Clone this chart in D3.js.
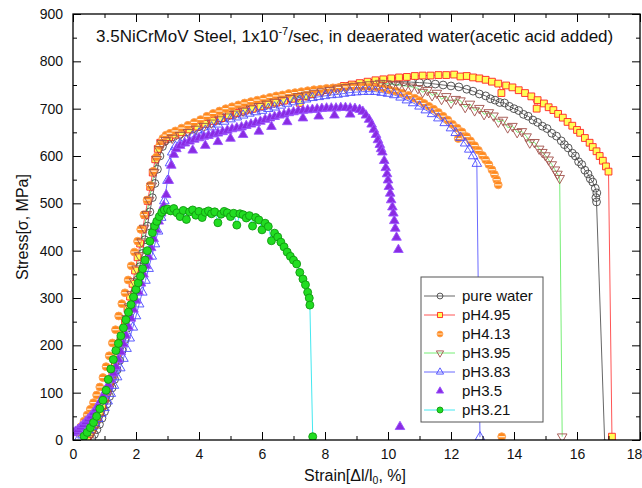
<!DOCTYPE html>
<html>
<head>
<meta charset="utf-8">
<script src="https://cdn.jsdelivr.net/npm/d3@7"></script>
<style>
body { margin: 0; background: #fff; }
svg text { font-family: "Liberation Sans", Arial, sans-serif; fill: #111; }
</style>
</head>
<body>
<svg id="chart" width="642" height="488"></svg>
<script>
// strain [%], stress [MPa]
const pureWater = [[0.6,4],[0.68,12],[0.76,22],[0.84,33],[0.92,46],[1.0,60],[1.08,76],[1.16,92],[1.24,110],[1.32,128],[1.4,148],[1.48,168],[1.56,190],[1.64,212],[1.72,236],[1.8,260],[1.88,285],[1.96,311],[2.04,338],[2.12,366],[2.2,394],[2.28,423],[2.36,452],[2.44,482],[2.52,512],[2.6,542],[2.68,572],[2.76,600],[2.84,620],[2.92,631],[3.05,637],[3.2,641],[3.4,646],[3.6,651],[3.8,657],[4.0,662],[4.25,668],[4.5,675],[4.75,681],[5.0,687],[5.25,693],[5.5,698],[5.75,703],[6.0,708],[6.25,712],[6.5,717],[6.75,721],[7.0,726],[7.25,730],[7.5,733],[7.75,737],[8.0,740],[8.25,743],[8.5,745],[8.75,748],[9.0,750],[9.25,752],[9.5,754],[9.75,756],[10.0,757],[10.25,757],[10.5,757],[10.75,756],[11.0,755],[11.25,754],[11.5,752],[11.75,750],[12.0,748],[12.25,746],[12.5,741],[12.7,737],[12.9,731],[13.1,727],[13.25,721],[13.4,718],[13.55,713],[13.7,712],[13.85,705],[14.0,700],[14.15,696],[14.3,688],[14.45,684],[14.6,676],[14.75,671],[14.9,663],[15.05,658],[15.2,648],[15.35,642],[15.5,632],[15.6,624],[15.72,617],[15.85,606],[15.95,600],[16.05,588],[16.15,582],[16.25,570],[16.35,562],[16.42,552],[16.5,545],[16.58,532],[16.63,522],[16.6,512],[16.62,503],[16.88,-8]];

const pH495 = [[0.45,4],[0.53,13],[0.61,22],[0.69,33],[0.77,45],[0.85,58],[0.93,72],[1.01,88],[1.09,105],[1.17,123],[1.25,142],[1.33,162],[1.41,183],[1.49,205],[1.57,228],[1.65,252],[1.73,277],[1.81,303],[1.89,330],[1.97,358],[2.05,386],[2.13,415],[2.21,445],[2.29,475],[2.37,505],[2.45,535],[2.53,565],[2.61,593],[2.69,615],[2.77,628],[2.9,635],[3.05,640],[3.25,645],[3.45,650],[3.7,656],[3.95,662],[4.2,668],[4.45,674],[4.7,680],[4.95,686],[5.2,691],[5.45,696],[5.7,700],[5.95,705],[6.2,709],[6.45,713],[6.7,717],[6.95,721],[7.2,712],[7.4,726],[7.6,731],[7.85,736],[8.1,740],[8.35,744],[8.6,748],[8.85,751],[9.1,754],[9.35,757],[9.6,760],[9.85,762],[10.1,764],[10.35,766],[10.6,767],[10.85,769],[11.1,770],[11.35,770],[11.6,771],[11.85,771],[12.1,772],[12.3,768],[12.5,769],[12.7,766],[12.9,764],[13.1,761],[13.3,757],[13.5,753],[13.6,733],[13.75,749],[13.95,745],[14.15,739],[14.35,733],[14.55,726],[14.72,700],[14.75,718],[14.95,711],[15.1,703],[15.25,697],[15.4,689],[15.55,681],[15.7,672],[15.85,664],[16.0,655],[16.1,649],[16.25,638],[16.4,628],[16.5,619],[16.62,610],[16.72,600],[16.82,590],[16.92,578],[17.0,567],[17.11,7]];

const pH413 = [[0.15,16],[0.25,28],[0.35,40],[0.45,53],[0.55,65],[0.65,79],[0.75,95],[0.85,112],[0.95,132],[1.05,155],[1.15,178],[1.25,205],[1.35,233],[1.45,262],[1.55,288],[1.65,311],[1.75,338],[1.85,368],[1.95,397],[2.05,420],[2.15,445],[2.25,476],[2.35,507],[2.45,538],[2.55,568],[2.65,598],[2.75,622],[2.85,637],[2.95,644],[3.08,648],[3.25,653],[3.45,659],[3.65,665],[3.85,671],[4.05,677],[4.25,684],[4.45,690],[4.65,695],[4.85,700],[5.05,704],[5.25,708],[5.45,712],[5.65,715],[5.85,718],[6.05,721],[6.25,724],[6.45,727],[6.65,729],[6.85,732],[7.05,734],[7.25,736],[7.45,738],[7.65,740],[7.85,741],[8.05,743],[8.25,744],[8.45,745],[8.65,746],[8.85,747],[9.05,747],[9.25,747],[9.45,746],[9.65,745],[9.85,743],[10.05,740],[10.25,737],[10.45,733],[10.65,728],[10.85,722],[11.0,717],[11.15,711],[11.3,705],[11.45,699],[11.6,692],[11.75,684],[11.9,676],[12.05,667],[12.23,637],[12.2,659],[12.35,651],[12.5,641],[12.62,632],[12.75,622],[12.87,612],[13.0,601],[13.1,592],[13.2,582],[13.3,571],[13.38,561],[13.45,550],[13.5,539],[13.61,7]];

const pH395 = [[0.5,4],[0.58,14],[0.66,24],[0.74,35],[0.82,47],[0.9,60],[0.98,75],[1.06,91],[1.14,108],[1.22,126],[1.3,146],[1.38,166],[1.46,188],[1.54,210],[1.62,233],[1.7,257],[1.78,282],[1.86,308],[1.94,335],[2.02,362],[2.1,390],[2.18,419],[2.26,448],[2.34,477],[2.42,507],[2.5,537],[2.58,566],[2.66,593],[2.74,614],[2.82,627],[2.95,633],[3.15,638],[3.4,644],[3.65,650],[3.9,657],[4.15,663],[4.4,670],[4.65,677],[4.9,683],[5.15,689],[5.4,695],[5.65,700],[5.9,705],[6.15,710],[6.4,714],[6.65,718],[6.9,722],[7.15,726],[7.4,729],[7.65,733],[7.9,736],[8.15,739],[8.4,742],[8.65,745],[8.9,747],[9.15,749],[9.4,751],[9.6,752],[9.75,754],[9.95,753],[10.15,752],[10.35,750],[10.55,748],[10.75,746],[10.95,743],[11.1,735],[11.25,739],[11.4,728],[11.55,733],[11.7,720],[11.85,726],[12.0,712],[12.15,720],[12.3,717],[12.45,703],[12.6,710],[12.75,696],[12.9,701],[13.05,688],[13.2,692],[13.35,685],[13.5,672],[13.65,676],[13.8,660],[13.95,663],[14.1,650],[14.25,652],[14.4,641],[14.5,628],[14.65,629],[14.8,615],[14.9,608],[15.0,601],[15.1,592],[15.2,582],[15.3,571],[15.38,562],[15.45,553],[15.53,7]];

const pH383 = [[0.2,5],[0.3,10],[0.4,15],[0.5,21],[0.6,28],[0.7,36],[0.8,45],[0.9,56],[1.0,68],[1.1,82],[1.2,98],[1.3,115],[1.4,133],[1.5,152],[1.6,172],[1.7,193],[1.8,215],[1.9,238],[2.0,262],[2.1,287],[2.2,312],[2.3,337],[2.4,362],[2.5,388],[2.6,414],[2.7,441],[2.8,470],[2.9,505],[3.0,548],[3.08,585],[3.15,608],[3.25,620],[3.4,626],[3.6,634],[3.8,641],[4.0,648],[4.2,654],[4.4,661],[4.6,667],[4.8,673],[5.0,678],[5.2,682],[5.4,686],[5.6,690],[5.8,693],[6.0,696],[6.2,700],[6.4,703],[6.6,707],[6.8,711],[7.0,714],[7.2,717],[7.4,720],[7.6,723],[7.8,725],[8.0,727],[8.2,729],[8.4,730],[8.6,732],[8.8,734],[9.0,735],[9.2,736],[9.4,736],[9.6,736],[9.8,734],[10.0,732],[10.2,729],[10.4,724],[10.6,718],[10.8,712],[11.0,705],[11.2,697],[11.4,689],[11.6,680],[11.8,670],[12.0,659],[12.15,649],[12.3,639],[12.45,627],[12.58,614],[12.7,600],[12.82,584],[12.92,6]];

const pH35 = [[0.0,15],[0.08,18],[0.16,22],[0.24,27],[0.32,32],[0.4,38],[0.48,44],[0.56,50],[0.64,57],[0.72,65],[0.8,73],[0.88,83],[0.96,93],[1.04,104],[1.12,116],[1.2,128],[1.28,141],[1.36,155],[1.44,170],[1.52,186],[1.6,203],[1.68,221],[1.76,239],[1.84,257],[1.92,276],[2.0,295],[2.08,313],[2.16,331],[2.24,350],[2.32,368],[2.4,387],[2.48,406],[2.56,425],[2.64,444],[2.72,462],[2.8,479],[2.88,495],[2.96,518],[3.04,548],[3.12,580],[3.2,603],[3.28,615],[3.4,622],[3.55,627],[3.7,631],[3.85,635],[4.0,638],[4.15,641],[4.3,643],[4.45,646],[4.6,648],[4.75,651],[4.9,654],[5.05,657],[5.2,659],[5.35,661],[5.5,664],[5.65,667],[5.8,670],[5.95,673],[6.1,677],[6.25,680],[6.4,683],[6.55,686],[6.7,688],[6.85,691],[7.0,693],[7.15,695],[7.3,696],[7.45,697],[7.6,698],[7.75,699],[7.9,700],[8.05,701],[8.2,701],[8.35,701],[8.5,702],[8.65,702],[8.8,701],[8.95,700],[9.1,698],[9.2,694],[9.3,686],[9.4,677],[9.48,667],[9.55,656],[9.62,645],[9.68,634],[9.74,624],[9.78,615],[9.82,608],[9.88,590],[9.93,575],[9.97,562],[10.0,549],[10.03,535],[10.07,521],[10.1,507],[10.14,492],[10.17,479],[10.2,463],[10.23,447],[10.27,428],[10.33,402],[10.38,28],
  [3.8,612],[4.2,622],[4.6,630],[5.0,637],[5.4,645],[5.9,652],[6.3,662],[6.8,672],[7.3,680],[7.8,684],[8.3,686],[8.8,688]];

const pH321 = [[0.35,8],[0.45,16],[0.55,26],[0.65,37],[0.75,50],[0.85,66],[0.95,84],[1.05,105],[1.12,128],[1.2,150],[1.28,170],[1.36,189],[1.44,204],[1.52,220],[1.6,237],[1.68,254],[1.76,270],[1.84,286],[1.92,302],[2.0,318],[2.07,332],[2.14,346],[2.21,362],[2.29,380],[2.36,400],[2.44,420],[2.52,438],[2.59,452],[2.66,462],[2.74,472],[2.82,481],[2.9,486],[3.0,488],[3.1,484],[3.2,489],[3.3,480],[3.4,472],[3.5,485],[3.6,466],[3.7,482],[3.8,486],[3.9,475],[4.0,483],[4.1,470],[4.2,481],[4.3,484],[4.4,478],[4.5,482],[4.6,459],[4.7,477],[4.8,483],[4.9,480],[5.0,472],[5.1,479],[5.2,454],[5.3,478],[5.4,476],[5.5,469],[5.6,474],[5.7,452],[5.8,470],[5.9,465],[6.0,444],[6.1,458],[6.2,451],[6.3,421],[6.4,437],[6.5,429],[6.6,418],[6.7,408],[6.8,397],[6.9,388],[7.0,380],[7.1,372],[7.2,354],[7.3,340],[7.38,328],[7.45,312],[7.5,300],[7.52,285],[7.61,7]];

const seriesNames = ["pure water", "pH4.95", "pH4.13", "pH3.95", "pH3.83", "pH3.5", "pH3.21"];
const seriesData = [pureWater, pH495, pH413, pH395, pH383, pH35, pH321];
const xTicks = [0, 2, 4, 6, 8, 10, 12, 14, 16, 18];
const xMinor = [1, 3, 5, 7, 9, 11, 13, 15, 17];
const yTicks = [0, 100, 200, 300, 400, 500, 600, 700, 800, 900];
const yMinor = [50, 150, 250, 350, 450, 550, 650, 750, 850];

// marker + line look for each series, in legend order
const looks = [
    { shape: d3.symbolCircle, size: 48, fill: "none", stroke: "#444", line: "#666" },
    { shape: d3.symbolSquare, size: 46, fill: "#ffff55", stroke: "#ff2222", line: "#ff5555" },
    { shape: d3.symbolCircle, size: 48, fill: "#ff8a1e", stroke: "#ffa050", line: null, stripe: true },
    { shape: d3.symbolTriangle, size: 40, fill: "none", stroke: "#a0504a", line: "#77ee77", flip: true },
    { shape: d3.symbolTriangle, size: 40, fill: "none", stroke: "#4a4aff", line: "#6a6aff" },
    { shape: d3.symbolTriangle, size: 40, fill: "#8a2be2", stroke: "#9a55ff", line: null },
    { shape: d3.symbolCircle, size: 50, fill: "#22dd22", stroke: "#119911", line: "#44e8f0" }
];

const svg = d3.select("#chart");
const plotLeft = 73, plotRight = 640, plotTop = 14, plotBottom = 440;
const x = d3.scaleLinear().domain([0, 18]).range([plotLeft, plotRight]);
const y = d3.scaleLinear().domain([0, 900]).range([plotBottom, plotTop]);

svg.append("defs").append("clipPath").attr("id", "plotClip")
    .append("rect").attr("x", plotLeft).attr("y", plotTop)
    .attr("width", plotRight - plotLeft).attr("height", plotBottom - plotTop);

// data
const plot = svg.append("g").attr("clip-path", "url(#plotClip)");
const line = d3.line().x(d => x(d[0])).y(d => y(d[1]));

function drawMarker(g, look, px, py, scale) {
    const sym = d3.symbol().type(look.shape).size(look.size * scale * scale);
    g.append("path")
        .attr("d", sym)
        .attr("transform", `translate(${px},${py})` + (look.flip ? " rotate(180)" : ""))
        .attr("fill", look.fill)
        .attr("stroke", look.stroke)
        .attr("stroke-width", 0.9);
    if (look.stripe) {
        const r = 3.2 * scale;
        g.append("line")
            .attr("x1", px - r).attr("x2", px + r)
            .attr("y1", py).attr("y2", py)
            .attr("stroke", "#fff3e0").attr("stroke-width", 1.2 * scale);
    }
}

// connecting lines go under all the markers
seriesData.forEach((pts, i) => {
    const look = looks[i];
    if (look.line) {
        plot.append("path")
            .datum(pts)
            .attr("d", line)
            .attr("fill", "none")
            .attr("stroke", look.line)
            .attr("stroke-width", 1);
    }
});

seriesData.forEach((pts, i) => {
    const g = plot.append("g");
    pts.forEach(p => drawMarker(g, looks[i], x(p[0]), y(p[1]), 1));
});

// axes, ticks pointing inward on all four sides
function styleAxis(g) {
    g.select(".domain").remove();
    g.selectAll(".tick line").attr("stroke", "#000");
    g.selectAll(".tick text").attr("font-size", 14).attr("fill", "#111")
        .style("font-family", '"Liberation Sans", Arial, sans-serif');
}

const bottomAxis = svg.append("g").attr("transform", `translate(0,${plotBottom})`)
    .call(d3.axisBottom(x).tickValues(xTicks).tickSize(-8).tickPadding(9)).call(styleAxis);
// the last label sits on the window edge, nudge it in so it stays readable
bottomAxis.selectAll(".tick text").filter(d => d === 18).attr("dx", -6);
svg.append("g").attr("transform", `translate(0,${plotBottom})`)
    .call(d3.axisBottom(x).tickValues(xMinor).tickSize(-4).tickFormat("")).call(styleAxis);
svg.append("g").attr("transform", `translate(0,${plotTop})`)
    .call(d3.axisTop(x).tickValues(xTicks).tickSize(-8).tickFormat("")).call(styleAxis);
svg.append("g").attr("transform", `translate(0,${plotTop})`)
    .call(d3.axisTop(x).tickValues(xMinor).tickSize(-4).tickFormat("")).call(styleAxis);

svg.append("g").attr("transform", `translate(${plotLeft},0)`)
    .call(d3.axisLeft(y).tickValues(yTicks).tickSize(-8).tickPadding(10)).call(styleAxis);
svg.append("g").attr("transform", `translate(${plotLeft},0)`)
    .call(d3.axisLeft(y).tickValues(yMinor).tickSize(-4).tickFormat("")).call(styleAxis);
svg.append("g").attr("transform", `translate(${plotRight},0)`)
    .call(d3.axisRight(y).tickValues(yTicks).tickSize(-8).tickFormat("")).call(styleAxis);
svg.append("g").attr("transform", `translate(${plotRight},0)`)
    .call(d3.axisRight(y).tickValues(yMinor).tickSize(-4).tickFormat("")).call(styleAxis);

svg.append("rect")
    .attr("x", plotLeft).attr("y", plotTop)
    .attr("width", plotRight - plotLeft).attr("height", plotBottom - plotTop)
    .attr("fill", "none").attr("stroke", "#000").attr("stroke-width", 1.3);

// title inside the frame
const title = svg.append("text").attr("x", 96).attr("y", 42).attr("font-size", 17);
title.append("tspan").text("3.5NiCrMoV Steel, 1x10");
title.append("tspan").attr("dy", -7).attr("font-size", 11).text("-7");
title.append("tspan").attr("dy", 7).text("/sec, in deaerated water(acetic acid added)");

// axis titles
const xLabel = svg.append("text").attr("x", 355).attr("y", 481).attr("text-anchor", "middle").attr("font-size", 16);
xLabel.append("tspan").text("Strain[\u0394l/l");
xLabel.append("tspan").attr("dy", 3).attr("font-size", 10.5).text("0");
xLabel.append("tspan").attr("dy", -3).text(", %]");

svg.append("text")
    .attr("transform", "translate(28,227) rotate(-90)")
    .attr("text-anchor", "middle")
    .attr("font-size", 16)
    .text("Stress[\u03c3, MPa]");

// legend
const legend = svg.append("g");
legend.append("rect")
    .attr("x", 421).attr("y", 277).attr("width", 122).attr("height", 145)
    .attr("fill", "#fff").attr("stroke", "#555").attr("stroke-width", 1);

seriesNames.forEach((name, i) => {
    const ly = 296 + i * 19;
    const look = looks[i];
    if (look.line) {
        legend.append("line").attr("x1", 424).attr("x2", 455).attr("y1", ly).attr("y2", ly)
            .attr("stroke", look.line).attr("stroke-width", 1);
    }
    drawMarker(legend, look, 440, ly, 0.75);
    legend.append("text").attr("x", 462).attr("y", ly + 5).attr("font-size", 15).text(name);
});
</script>
</body>
</html>
